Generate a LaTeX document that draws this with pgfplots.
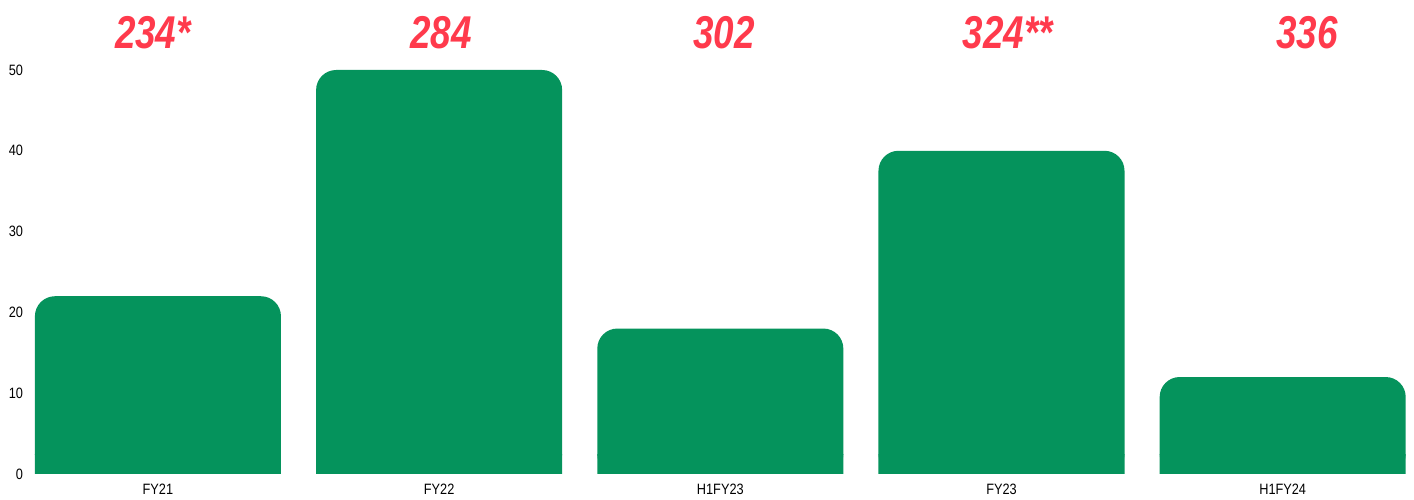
\documentclass[border=0pt]{standalone}
\usepackage{pgfplots}
\usepackage{pgfplotstable}
\pgfplotsset{compat=1.18}
\usepackage{fontspec}
\setmainfont{Liberation Sans}[FakeStretch=0.85]
\newfontfamily\labfont{Liberation Sans}[FakeStretch=0.8]
\definecolor{barg}{HTML}{05935C}
\definecolor{labred}{HTML}{FF3A4C}
\pgfplotstableread{
x v
0 22
1 50
2 18
3 40
4 12
}\data
\begin{document}
\begin{tikzpicture}
\begin{axis}[
  scale only axis, width=692pt, height=202pt,
  xmin=-0.455, xmax=4.467, ymin=0, ymax=50,
  xtick={0,1,2,3,4}, xticklabels={FY21,FY22,H1FY23,FY23,H1FY24},
  ytick={0,10,20,30,40,50},
  axis line style={draw=none}, major tick length=0pt,
  tick label style={font=\fontsize{7.5}{9}\selectfont},
  /pgf/number format/assume math mode=true,
  xticklabel style={yshift=-1.5pt},
  clip=false,
  ybar, bar width=0.875, bar shift=0pt,
]
\addplot[fill=barg, draw=none, rounded corners=10pt] table[x=x,y=v]{\data};
\addplot[fill=barg, draw=none] table[x=x, y expr={min(\thisrow{v},2.45)}]{\data};
\node[labred, font=\labfont\bfseries\itshape\fontsize{23}{26}\selectfont] at (axis cs:-0.018,54.6) {234*};
\node[labred, font=\labfont\bfseries\itshape\fontsize{23}{26}\selectfont] at (axis cs:1.006,54.6) {284};
\node[labred, font=\labfont\bfseries\itshape\fontsize{23}{26}\selectfont] at (axis cs:2.013,54.6) {302};
\node[labred, font=\labfont\bfseries\itshape\fontsize{23}{26}\selectfont] at (axis cs:3.023,54.6) {324**};
\node[labred, font=\labfont\bfseries\itshape\fontsize{23}{26}\selectfont] at (axis cs:4.086,54.6) {336};
\end{axis}
\pgfresetboundingbox
\path[use as bounding box] ([shift={(-15pt,-13pt)}]current axis.south west) rectangle ([shift={(0pt,35pt)}]current axis.north east);
\end{tikzpicture}
\end{document}
